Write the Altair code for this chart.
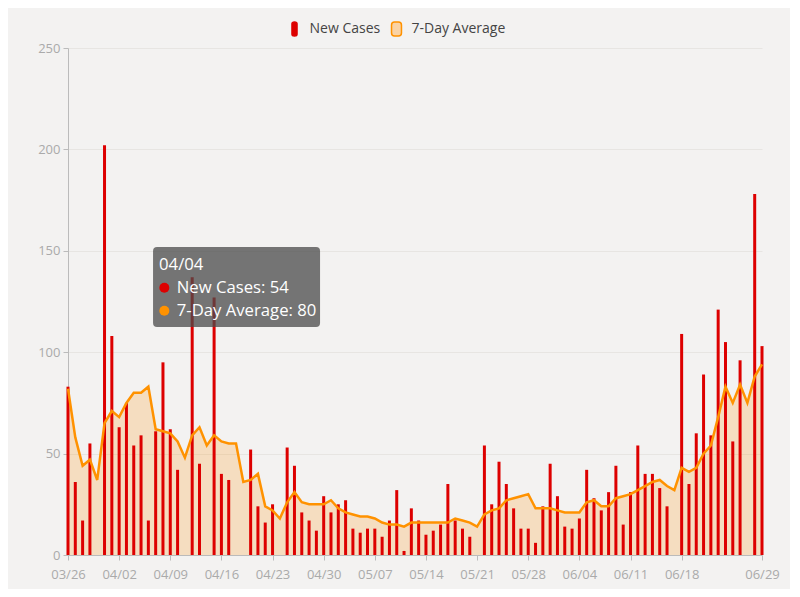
import altair as alt
import pandas as pd

# ---------------- data ----------------
dates = pd.date_range("2020-03-26", "2020-06-29", freq="D").strftime("%m/%d").tolist()

new_cases = [83, 36, 17, 55, 0, 202, 108, 63, 75, 54,
             59, 17, 61, 95, 62, 42, 0, 137, 45, 0,
             127, 40, 37, 0, 0, 52, 24, 16, 25, 0,
             53, 44, 21, 17, 12, 29, 21, 25, 27, 13,
             11, 13, 13, 9, 17, 32, 2, 23, 17, 10,
             12, 15, 35, 17, 13, 9, 0, 54, 25, 46,
             35, 23, 13, 13, 6, 24, 45, 29, 14, 13,
             18, 42, 28, 22, 31, 44, 15, 31, 54, 40,
             40, 33, 24, 0, 109, 35, 60, 89, 59, 121,
             105, 56, 96, 0, 178, 103]

avg7 = [82, 58, 44, 47, 37, 65, 71, 68, 75, 80,
        80, 83, 62, 61, 60, 56, 48, 59, 63, 54,
        59, 56, 55, 55, 36, 37, 40, 24, 22, 18,
        26, 31, 26, 25, 25, 25, 27, 23, 21, 20,
        19, 19, 18, 16, 15, 15, 14, 16, 16, 16,
        16, 16, 16, 18, 17, 16, 14, 20, 22, 23,
        27, 28, 29, 30, 23, 23, 23, 22, 21, 21,
        21, 26, 27, 24, 24, 28, 29, 30, 32, 34,
        36, 37, 34, 32, 43, 41, 43, 50, 54, 68,
        83, 75, 84, 75, 88, 94]

tick_labels = ["03/26", "04/02", "04/09", "04/16", "04/23", "04/30", "05/07",
               "05/14", "05/21", "05/28", "06/04", "06/11", "06/18", "06/29"]
y_ticks = [0, 50, 100, 150, 200, 250]
series = ["New Cases", "7-Day Average"]
hover_date = "04/04"

# ---------------- styling ----------------
FONT = "Open Sans"
RED = "#dd0000"
ORANGE = "#ff9200"
PEACH = "#fad3a5"
BG = "#f3f2f1"

df = pd.DataFrame({"date": dates, "cases": new_cases, "avg": avg7})
hi = dates.index(hover_date)
tip = pd.DataFrame({
    "date": [hover_date],
    "avg": [avg7[hi]],
    "title": [hover_date],
    "l1": [f"New Cases: {new_cases[hi]}"],
    "l2": [f"7-Day Average: {avg7[hi]}"],
})
legend_df = pd.DataFrame({"series": series})

x_enc = alt.X(
    "date:O", sort=dates,
    scale=alt.Scale(type="point", padding=0),
    axis=alt.Axis(values=tick_labels, labelAngle=0, title=None, grid=False,
                  tickSize=5, labelPadding=8),
)
y_scale = alt.Scale(domain=[0, 250], nice=False)
y_axis = alt.Axis(values=y_ticks, title=None, grid=True, tickSize=5, labelPadding=3)

base = alt.Chart(df)

area = base.mark_area(color="#ff8c00", opacity=0.2).encode(
    x=x_enc, y=alt.Y("avg:Q", scale=y_scale, axis=y_axis)
)
bars = base.mark_bar(color=RED, size=3).encode(
    x=x_enc, y=alt.Y("cases:Q", scale=y_scale, axis=y_axis)
)
line = base.mark_line(color=ORANGE, strokeWidth=2.5).encode(
    x=x_enc, y=alt.Y("avg:Q", scale=y_scale, axis=y_axis)
)

# ---- legend (real Vega-Lite legend with custom symbols) ----
bar_icon = "M-0.36,-0.75 Q-0.36,-1 0,-1 Q0.36,-1 0.36,-0.75 V0.75 Q0.36,1 0,1 Q-0.36,1 -0.36,0.75 Z"
avg_icon = ("M-0.71,-0.57 Q-0.71,-1 -0.28,-1 H0.28 Q0.71,-1 0.71,-0.57 V0.57 "
            "Q0.71,1 0.28,1 H-0.28 Q-0.71,1 -0.71,0.57 Z")
leg = alt.Legend(title=None, orient="none", legendX=218.5, legendY=-27,
                 direction="horizontal", symbolSize=196, symbolStrokeWidth=1.5,
                 symbolOpacity=1, labelFontSize=14, labelFont=FONT,
                 labelColor="#444444", labelOffset=7, columnPadding=8)
legend_layer = alt.Chart(legend_df).mark_point(filled=True, opacity=0).encode(
    fill=alt.Fill("series:N", sort=series,
                  scale=alt.Scale(domain=series, range=[RED, PEACH]), legend=leg),
    stroke=alt.Stroke("series:N", sort=series,
                      scale=alt.Scale(domain=series, range=[RED, ORANGE]), legend=leg),
    shape=alt.Shape("series:N", sort=series,
                    scale=alt.Scale(domain=series, range=[bar_icon, avg_icon]), legend=leg),
)

# ---- tooltip anchored at the hovered data point ----
tip_base = alt.Chart(tip).encode(
    x=x_enc, y=alt.Y("avg:Q", scale=y_scale, axis=y_axis)
)
box_path = ("M-0.952,-0.479 H0.952 Q1,-0.479 1,-0.431 V0.431 Q1,0.479 0.952,0.479 "
            "H-0.952 Q-1,0.479 -1,0.431 V-0.431 Q-1,-0.479 -0.952,-0.479 Z")
tip_box = tip_base.mark_point(shape=box_path, size=167 * 167, filled=True,
                              color="#4a4a4a", opacity=0.75,
                              xOffset=102.8, yOffset=-105.8)
dot1 = tip_base.mark_point(shape="circle", size=100, filled=True, color=RED,
                           opacity=1, xOffset=30.6, yOffset=-105)
dot2 = tip_base.mark_point(shape="circle", size=100, filled=True, color=ORANGE,
                           opacity=1, xOffset=30.6, yOffset=-82)
t0 = tip_base.mark_text(align="left", baseline="alphabetic", dx=25.3, dy=-122.8,
                        color="white", font=FONT, fontSize=16.7).encode(text="title:N")
t1 = tip_base.mark_text(align="left", baseline="alphabetic", dx=43, dy=-99.8,
                        color="white", font=FONT, fontSize=16.7).encode(text="l1:N")
t2 = tip_base.mark_text(align="left", baseline="alphabetic", dx=43, dy=-76.8,
                        color="white", font=FONT, fontSize=16.7).encode(text="l2:N")

chart = alt.layer(
    area, bars, line, legend_layer, tip_box, dot1, dot2, t0, t1, t2
).properties(
    width=694, height=507,
    padding={"left": 60, "top": 40, "right": 28, "bottom": 34},
    autosize=alt.AutoSizeParams(type="none"),
).configure(
    background=BG
).configure_view(
    strokeWidth=0
).configure_axis(
    labelFont=FONT, labelFontSize=13, labelColor="#aaaaaa",
    domainColor="#bbbbbb", tickColor="#bbbbbb", gridColor="#e7e5e2",
    gridWidth=1,
)

chart.save("out.html", embed_options={"renderer": "svg", "actions": False})
